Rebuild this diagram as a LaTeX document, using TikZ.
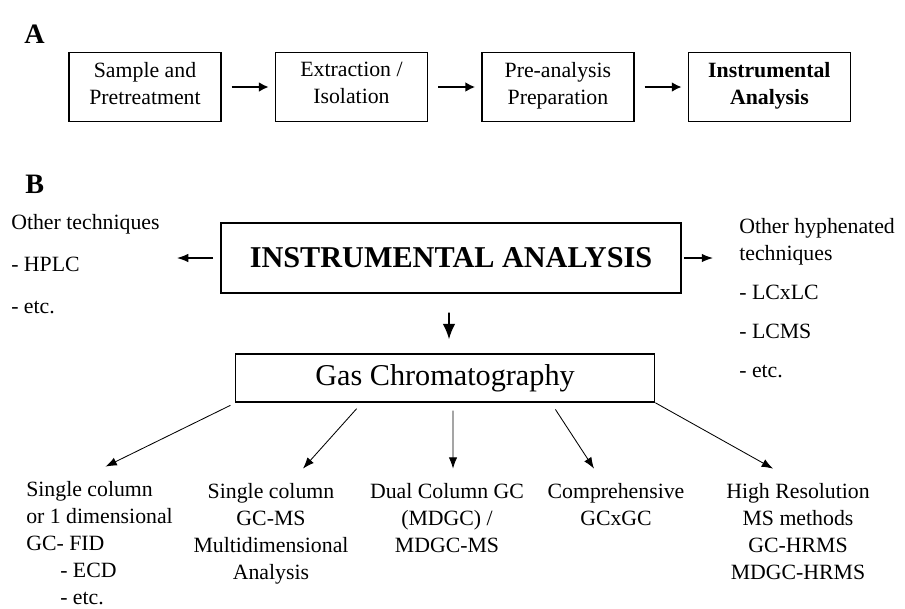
\documentclass[tikz,border=0pt]{standalone}
\usepackage{fontspec}
\setmainfont{Liberation Serif}
\usetikzlibrary{positioning, arrows.meta}

\newcommand{\bodyfont}{\fontsize{15.5}{19.2}\selectfont}
\newcommand{\bigfont}{\fontsize{21.5}{26}\selectfont}

\begin{document}
\begin{tikzpicture}[
    x=0.025cm, y=-0.025cm,
    stagebox/.style={
        draw,
        line width=1pt,
        font=\bodyfont,
        align=center,
        minimum width=3.8cm,
        minimum height=1.725cm,
        inner sep=0pt,
        execute at begin node=\strut,
        execute at end node=\strut
    },
    mainbox/.style={
        draw,
        line width=1pt,
        font=\bigfont,
        inner sep=0pt
    },
    panel/.style={font=\fontsize{20}{24}\selectfont\bfseries, anchor=base west, inner sep=0pt},
    listtxt/.style={font=\bodyfont, align=left, anchor=base west, inner sep=0pt},
    methodtxt/.style={font=\bodyfont, align=center, anchor=base, inner sep=0pt},
    flow/.style={-{Latex[length=7pt, width=7pt]}, line width=1.5pt},
    branch/.style={-{Latex[length=8pt, width=6pt]}, line width=0.6pt}
]
\useasboundingbox (0,0) rectangle (905,608);

% === A: workflow ===
\node[panel] (pa) at (24,43) {A};
\node[stagebox] (sample) at (145,87) {Sample and\\Pretreatment};
\node[stagebox, right=1.325cm of sample] (extract) {Extraction /\\Isolation};
\node[stagebox, right=1.325cm of extract] (prep) {Pre-analysis\\Preparation};
\node[stagebox, right=1.325cm of prep, minimum width=4.05cm, font=\bodyfont\bfseries] (instr) {Instrumental\\Analysis};

\draw[flow, shorten <=0.25cm, shorten >=0.15cm] (sample) -- (extract);
\draw[flow, shorten <=0.25cm, shorten >=0.15cm] (extract) -- (prep);
\draw[flow, shorten <=0.25cm, shorten >=0.15cm] (prep) -- (instr);

% === B: instrumental analysis ===
\node[panel] (pb) at (25,193) {B};
\node[mainbox, minimum width=11.5cm, minimum height=1.75cm, font=\bigfont\bfseries] (ia) at (451,258) {INSTRUMENTAL ANALYSIS};
\node[mainbox, minimum width=10.475cm, minimum height=1.2cm] (gc) at (445,378) {Gas Chromatography};

% multi-line texts sit on the baseline of their last line
\node[listtxt] (other) at (11,313) {Other techniques\\[0.375cm]- HPLC\\[0.375cm]- etc.};
\node[listtxt] (hyph) at (739,377) {Other hyphenated\\techniques\\[0.3cm]- LCxLC\\[0.3cm]- LCMS\\[0.3cm]- etc.};

\coordinate (lefttip) at (177,258);
\coordinate (righttip) at (713,258);
\draw[branch, line width=0.8pt, shorten <=0.175cm] (ia.west) -- (lefttip);
\draw[branch, line width=0.8pt, shorten <=0.05cm] (ia.east) -- (righttip);
\draw[branch, line width=1.3pt, -{Latex[length=11pt, width=9pt]}, shorten <=0.475cm, shorten >=0.35cm] ([xshift=-0.05cm]ia.south) -- ([xshift=0.1cm]gc.north);

% === GC methods ===
\node[listtxt] (single) at (26,604) {Single column\\or 1 dimensional\\GC- FID\\\hspace*{0.85cm}- ECD\\\hspace*{0.85cm}- etc.};
\node[methodtxt] (gcms) at (271,579) {Single column\\GC-MS\\Multidimensional\\Analysis};
\node[methodtxt] (mdgc) at (447,552) {Dual Column GC\\(MDGC) /\\MDGC-MS};
\node[methodtxt] (gcxgc) at (616,525) {Comprehensive\\GCxGC};
\node[methodtxt] (hrms) at (798,579) {High Resolution\\MS methods\\GC-HRMS\\MDGC-HRMS};

\draw[branch, shorten <=0.15cm] ([xshift=0.025cm]gc.south west) -- ([xshift=0.15cm, yshift=0.35cm]single.north);
\draw[branch, shorten <=0.2cm] ([xshift=-2.075cm]gc.south) -- ([xshift=0.8cm, yshift=0.35cm]gcms.north);
\draw[branch, shorten <=0.2cm] ([xshift=0.2cm]gc.south) -- ([xshift=0.15cm, yshift=0.35cm]mdgc.north);
\draw[branch, shorten <=0.2cm] ([xshift=2.65cm]gc.south) -- ([xshift=-0.55cm, yshift=0.35cm]gcxgc.north);
\draw[branch] (gc.south east) -- ([xshift=-0.625cm, yshift=0.35cm]hrms.north);

\end{tikzpicture}
\end{document}
